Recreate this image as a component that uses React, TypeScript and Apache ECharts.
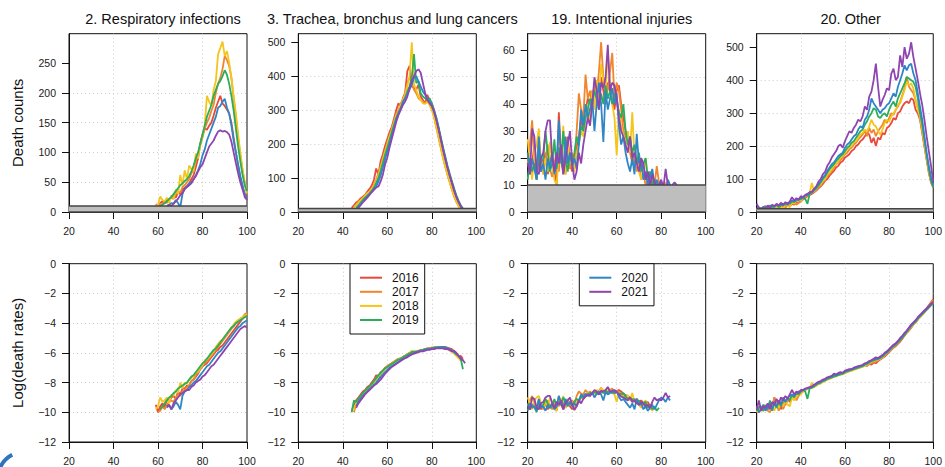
import React, { useEffect, useRef } from 'react';
import * as echarts from 'echarts';

// ---------- data ----------
const YEARS = ['2016', '2017', '2018', '2019', '2020', '2021'];
const COLORS = ['#E8493B', '#F0862E', '#F4C51B', '#2BAE5C', '#2F86C5', '#8E45B0'];
const PANEL_TITLES = [
  '2. Respiratory infections',
  '3. Trachea, bronchus and lung cancers',
  '19. Intentional injuries',
  '20. Other',
];
const ROW_NAMES = ['Death counts', 'Log(death rates)'];
const AGE_MIN = 20;
const AGE_MAX = 100;
const AGE_STEP = 20;
const COUNT_TICKS = [
  [0, 50, 100, 150, 200, 250],
  [0, 100, 200, 300, 400, 500],
  [0, 10, 20, 30, 40, 50, 60],
  [0, 100, 200, 300, 400, 500],
];
const COUNT_MAX = [299.25, 525, 66.15, 541];
const RATE_MIN = -12;
const RATE_MAX = 0;
const RATE_STEP = 2;
const THRESHOLD = 10;

// 2. Respiratory infections: first age of each year's series
const RESP_START = [59, 60, 59, 61, 64, 64];
const RESP_C16 = [13, 10, 15, 18, 14, 22, 20, 25, 28, 24, 33, 30, 38, 40, 44, 48, 55, 62, 75, 90, 115, 130, 140, 138, 145, 150, 162, 175, 185, 195, 182, 178, 172, 165, 150, 125, 100, 78, 58, 42, 30, 22];
const RESP_C17 = [10, 14, 12, 18, 15, 20, 24, 22, 30, 35, 32, 42, 45, 50, 55, 65, 70, 85, 98, 112, 125, 140, 150, 158, 170, 180, 200, 215, 225, 240, 262, 255, 245, 225, 190, 160, 125, 95, 70, 48, 30];
const RESP_C18 = [10, 12, 26, 20, 18, 24, 15, 28, 22, 38, 30, 62, 45, 70, 55, 78, 72, 68, 98, 90, 112, 128, 145, 195, 185, 178, 205, 220, 265, 275, 286, 262, 270, 250, 225, 195, 165, 130, 100, 72, 50, 32];
const RESP_C19 = [10, 12, 15, 18, 22, 25, 30, 35, 40, 45, 48, 52, 55, 60, 68, 78, 90, 100, 115, 130, 145, 160, 170, 180, 195, 205, 215, 220, 228, 238, 230, 215, 195, 170, 140, 110, 85, 62, 45, 35];
const RESP_C20 = [10, 12, 15, 14, 20, 15, 8, 30, 40, 42, 48, 50, 55, 62, 70, 80, 95, 105, 120, 130, 140, 150, 160, 175, 178, 185, 190, 175, 165, 145, 120, 100, 80, 60, 45, 30, 25];
const RESP_C21 = [10, 12, 10, 14, 18, 22, 28, 32, 38, 42, 45, 48, 55, 60, 68, 75, 80, 90, 100, 110, 115, 120, 128, 135, 137, 135, 136, 134, 130, 118, 100, 82, 65, 50, 38, 25, 20];
const RESP_R16 = [-9.5, -10.0, -9.6, -9.4, -9.7, -9.1, -9.3, -9.0, -8.9, -9.1, -8.6, -8.8, -8.4, -8.4, -8.2, -8.2, -7.9, -7.8, -7.6, -7.4, -7.1, -6.9, -6.8, -6.7, -6.5, -6.3, -6.1, -5.9, -5.8, -5.6, -5.5, -5.3, -5.1, -4.9, -4.7, -4.5, -4.3, -4.1, -3.9, -3.7, -3.5, -3.4];
const RESP_R17 = [-10.0, -9.9, -9.6, -9.8, -9.5, -9.3, -9.2, -9.3, -9.0, -8.8, -8.9, -8.6, -8.5, -8.3, -8.2, -7.9, -7.8, -7.5, -7.3, -7.1, -6.9, -6.7, -6.6, -6.4, -6.2, -6.0, -5.8, -5.6, -5.4, -5.2, -5.0, -4.8, -4.6, -4.4, -4.2, -4.0, -3.8, -3.7, -3.6, -3.4, -3.3];
const RESP_R18 = [-9.8, -9.6, -9.0, -9.3, -9.2, -9.0, -9.4, -8.8, -8.9, -8.5, -8.7, -8.0, -8.4, -8.0, -8.1, -7.8, -7.7, -7.6, -7.3, -7.3, -7.0, -6.8, -6.5, -6.4, -6.3, -6.1, -5.9, -5.6, -5.4, -5.2, -5.1, -4.9, -4.7, -4.5, -4.3, -4.1, -3.9, -3.8, -3.7, -3.6, -3.5, -3.4];
const RESP_R19 = [-9.8, -9.6, -9.4, -9.2, -9.0, -8.9, -8.7, -8.6, -8.4, -8.3, -8.2, -8.1, -8.0, -7.8, -7.6, -7.5, -7.3, -7.1, -6.9, -6.7, -6.6, -6.4, -6.2, -6.0, -5.8, -5.7, -5.5, -5.3, -5.1, -4.9, -4.7, -4.5, -4.3, -4.2, -4.0, -3.9, -3.8, -3.7, -3.6, -3.5];
const RESP_R20 = [-9.7, -9.5, -9.8, -9.6, -9.3, -9.5, -9.8, -8.9, -8.6, -8.5, -8.3, -8.2, -8.0, -7.9, -7.7, -7.5, -7.3, -7.1, -6.9, -6.8, -6.6, -6.4, -6.2, -6.0, -5.9, -5.7, -5.5, -5.3, -5.1, -4.9, -4.7, -4.5, -4.3, -4.2, -4.0, -3.9, -3.8];
const RESP_R21 = [-9.6, -9.5, -9.8, -9.4, -9.2, -9.0, -8.8, -8.7, -8.6, -8.5, -8.5, -8.3, -8.2, -8.0, -7.9, -7.8, -7.6, -7.5, -7.3, -7.1, -6.9, -6.8, -6.6, -6.4, -6.2, -6.0, -5.8, -5.6, -5.4, -5.2, -5.0, -4.8, -4.6, -4.4, -4.3, -4.2, -4.3];

// 3. Trachea, bronchus and lung cancers
const LUNG_C_START = [44, 45, 45, 46, 46, 46];
const LUNG_R_START = [44, 45, 45, 44, 46, 46];
const LUNG_C16 = [12, 20, 28, 32, 40, 45, 50, 60, 68, 78, 95, 128, 110, 150, 170, 195, 215, 235, 250, 275, 300, 320, 310, 335, 350, 415, 430, 370, 365, 360, 375, 340, 330, 320, 345, 325, 320, 300, 272, 245, 215, 185, 155, 130, 105, 85, 62, 45, 28, 15, 8];
const LUNG_C17 = [15, 22, 30, 35, 42, 48, 55, 62, 70, 80, 95, 115, 135, 160, 180, 205, 225, 245, 268, 290, 300, 320, 330, 350, 380, 395, 380, 360, 350, 335, 330, 325, 320, 330, 322, 305, 280, 250, 220, 190, 160, 135, 110, 88, 66, 46, 30, 18, 8];
const LUNG_C18 = [12, 20, 28, 35, 40, 48, 55, 60, 68, 78, 90, 108, 130, 155, 178, 200, 222, 240, 262, 285, 295, 315, 330, 345, 370, 400, 500, 375, 360, 340, 330, 320, 318, 325, 315, 300, 278, 250, 222, 192, 162, 136, 112, 90, 68, 48, 32, 18, 8];
const LUNG_C19 = [12, 20, 28, 35, 42, 48, 55, 62, 72, 85, 100, 120, 145, 168, 190, 212, 235, 255, 278, 292, 305, 320, 335, 355, 370, 395, 465, 380, 385, 350, 340, 335, 330, 335, 320, 300, 280, 252, 222, 192, 165, 138, 114, 92, 70, 50, 34, 20, 10];
const LUNG_C20 = [8, 15, 22, 30, 38, 45, 52, 60, 68, 75, 90, 108, 130, 155, 178, 200, 225, 250, 272, 290, 305, 325, 335, 345, 360, 375, 395, 400, 385, 370, 355, 345, 335, 325, 315, 298, 275, 248, 218, 188, 160, 133, 110, 88, 66, 46, 30, 17, 8];
const LUNG_C21 = [5, 12, 20, 28, 35, 42, 50, 58, 65, 72, 75, 90, 110, 140, 160, 190, 215, 240, 265, 285, 300, 315, 325, 340, 365, 385, 400, 415, 420, 410, 380, 350, 330, 320, 312, 295, 272, 245, 215, 185, 158, 132, 108, 86, 64, 45, 30, 18, 8, 3];
const LUNG_R16 = [-9.9, -9.5, -9.2, -9.0, -8.8, -8.6, -8.5, -8.3, -8.2, -8.0, -7.8, -7.5, -7.6, -7.3, -7.2, -7.0, -6.9, -6.8, -6.7, -6.6, -6.5, -6.4, -6.4, -6.3, -6.2, -6.1, -6.0, -6.0, -5.95, -5.9, -5.9, -5.85, -5.8, -5.75, -5.7, -5.7, -5.65, -5.65, -5.6, -5.6, -5.65, -5.6, -5.6, -5.65, -5.7, -5.75, -5.9, -6.0, -6.3, -6.2, -6.4];
const LUNG_R17 = [-10.0, -9.5, -9.2, -9.0, -8.8, -8.6, -8.4, -8.3, -8.1, -7.9, -7.7, -7.5, -7.4, -7.2, -7.05, -6.9, -6.8, -6.7, -6.6, -6.5, -6.4, -6.35, -6.3, -6.2, -6.1, -6.05, -6.0, -5.95, -5.9, -5.85, -5.8, -5.8, -5.75, -5.7, -5.7, -5.65, -5.65, -5.6, -5.6, -5.6, -5.65, -5.65, -5.7, -5.8, -5.9, -6.0, -6.1, -6.3, -6.5];
const LUNG_R18 = [-9.8, -9.4, -9.2, -9.0, -8.85, -8.7, -8.5, -8.35, -8.2, -8.0, -7.8, -7.6, -7.45, -7.3, -7.1, -6.95, -6.85, -6.75, -6.6, -6.55, -6.45, -6.35, -6.3, -6.2, -6.15, -6.0, -5.85, -6.05, -6.0, -5.9, -5.85, -5.8, -5.8, -5.75, -5.7, -5.7, -5.65, -5.65, -5.6, -5.65, -5.7, -5.7, -5.75, -5.85, -5.95, -6.05, -6.2, -6.35, -6.5];
const LUNG_R19 = [-10.0, -9.2, -9.3, -9.1, -8.9, -8.7, -8.55, -8.4, -8.25, -8.1, -7.9, -7.7, -7.5, -7.35, -7.2, -7.05, -6.95, -6.85, -6.75, -6.65, -6.55, -6.45, -6.4, -6.3, -6.2, -6.15, -6.05, -5.95, -5.9, -5.95, -5.9, -5.85, -5.8, -5.75, -5.75, -5.7, -5.7, -5.65, -5.65, -5.6, -5.6, -5.6, -5.65, -5.7, -5.75, -5.85, -5.95, -6.1, -6.2, -6.4, -7.1];
const LUNG_R20 = [-9.6, -9.3, -9.1, -8.9, -8.75, -8.6, -8.45, -8.3, -8.15, -8.0, -7.8, -7.6, -7.45, -7.3, -7.15, -7.0, -6.9, -6.8, -6.7, -6.6, -6.5, -6.4, -6.35, -6.25, -6.15, -6.1, -6.0, -5.95, -5.9, -5.85, -5.85, -5.8, -5.75, -5.75, -5.7, -5.7, -5.65, -5.65, -5.65, -5.6, -5.65, -5.7, -5.75, -5.85, -5.95, -6.05, -6.2, -6.35, -6.5];
const LUNG_R21 = [-9.7, -9.4, -9.2, -9.0, -8.8, -8.65, -8.5, -8.35, -8.2, -8.1, -7.95, -7.8, -7.6, -7.4, -7.25, -7.1, -6.95, -6.85, -6.75, -6.65, -6.55, -6.45, -6.35, -6.3, -6.2, -6.1, -6.05, -6.0, -5.95, -5.9, -5.9, -5.85, -5.8, -5.8, -5.75, -5.75, -5.7, -5.7, -5.7, -5.7, -5.75, -5.75, -5.8, -5.9, -5.85, -6.0, -6.2, -6.4, -6.5, -6.7];

// 19. Intentional injuries (all series start at age 20)
const INJ_START = [20, 20, 20, 20, 20, 20];
const INJ_C16 = [22, 15, 18, 25, 12, 20, 15, 18, 22, 14, 18, 22, 15, 10, 37, 20, 14, 22, 28, 18, 15, 20, 24, 28, 35, 30, 38, 42, 40, 45, 44, 48, 42, 50, 45, 40, 48, 45, 42, 38, 45, 47, 40, 35, 30, 28, 25, 22, 18, 20, 15, 18, 14, 12, 15, 10, 12, 8, 11, 9, 10];
const INJ_C17 = [18, 25, 34, 20, 15, 28, 18, 14, 20, 25, 16, 13, 18, 22, 15, 25, 18, 14, 20, 16, 22, 18, 30, 44, 38, 35, 51, 42, 45, 38, 48, 44, 52, 63, 50, 48, 45, 52, 59, 42, 48, 45, 38, 30, 28, 25, 22, 18, 20, 15, 18, 12, 14, 10, 12, 9, 12, 10, 17, 11, 9, 10, 11];
const INJ_C18 = [27, 18, 12, 22, 25, 31, 18, 14, 20, 15, 26, 18, 12, 10, 22, 18, 32, 14, 25, 18, 20, 15, 22, 25, 30, 28, 35, 40, 32, 45, 38, 49, 42, 55, 49, 44, 59, 48, 40, 35, 21, 38, 32, 28, 25, 30, 22, 37, 20, 18, 15, 12, 16, 20, 12, 10, 8, 10];
const INJ_C19 = [12, 20, 15, 18, 12, 22, 18, 20, 30, 22, 15, 18, 27, 16, 24, 18, 30, 20, 15, 22, 18, 22, 28, 25, 32, 30, 35, 38, 42, 40, 45, 42, 38, 44, 40, 47, 42, 45, 40, 44, 42, 37, 35, 40, 30, 25, 28, 22, 25, 18, 22, 15, 18, 20, 12, 15, 10, 12, 9, 10];
const INJ_C20 = [22, 14, 20, 16, 12, 28, 15, 18, 12, 20, 16, 22, 14, 18, 34, 20, 15, 28, 18, 22, 17, 20, 16, 25, 38, 32, 40, 35, 38, 42, 30, 40, 48, 40, 26, 45, 38, 42, 46, 40, 44, 32, 25, 28, 22, 18, 15, 20, 14, 29, 18, 20, 12, 15, 10, 13, 16, 10, 12, 9, 11, 10, 8, 12, 10];
const INJ_C21 = [18, 14, 31, 28, 15, 14, 20, 22, 30, 34, 34, 20, 15, 22, 18, 25, 14, 20, 25, 30, 18, 12, 15, 22, 18, 25, 30, 35, 32, 40, 50, 45, 38, 48, 46, 50, 62, 45, 48, 47, 42, 35, 30, 28, 25, 22, 28, 20, 22, 18, 15, 20, 18, 12, 15, 10, 14, 11, 9, 10, 12, 9, 16, 10, 9, 10, 11, 10];
const INJ_R16 = [-9.4, -9.8, -9.6, -9.3, -9.9, -9.5, -9.8, -9.6, -9.4, -9.8, -9.6, -9.4, -9.7, -9.9, -8.9, -9.5, -9.8, -9.4, -9.2, -9.6, -9.8, -9.6, -9.4, -9.3, -9.0, -9.1, -8.9, -8.8, -8.85, -8.7, -8.75, -8.6, -8.75, -8.55, -8.65, -8.75, -8.6, -8.6, -8.65, -8.75, -8.55, -8.5, -8.6, -8.75, -8.85, -8.9, -9.0, -9.1, -9.25, -9.1, -9.3, -9.2, -9.4, -9.45, -9.3, -9.6, -9.4];
const INJ_R17 = [-9.6, -9.2, -8.9, -9.4, -9.7, -9.1, -9.5, -9.8, -9.4, -9.2, -9.6, -9.8, -9.5, -9.3, -9.6, -9.1, -9.4, -9.7, -9.3, -9.5, -9.2, -9.4, -8.9, -8.6, -8.75, -8.8, -8.5, -8.7, -8.6, -8.8, -8.6, -8.65, -8.55, -8.35, -8.6, -8.6, -8.65, -8.5, -8.4, -8.7, -8.55, -8.6, -8.75, -8.95, -9.0, -9.05, -9.15, -9.3, -9.2, -9.4, -9.25, -9.6, -9.45, -9.7, -9.5, -9.8, -9.5];
const INJ_R18 = [-9.0, -9.4, -9.8, -9.2, -9.0, -8.9, -9.4, -9.7, -9.3, -9.6, -9.0, -9.3, -9.8, -9.9, -9.2, -9.4, -8.9, -9.7, -9.1, -9.4, -9.3, -9.6, -9.3, -9.2, -9.0, -9.05, -8.85, -8.7, -8.95, -8.6, -8.75, -8.5, -8.65, -8.4, -8.5, -8.6, -8.35, -8.55, -8.7, -8.8, -9.3, -8.7, -8.85, -8.95, -9.05, -8.85, -9.15, -8.7, -9.3, -9.35, -9.5, -9.7, -9.4, -9.2, -9.6, -9.7, -9.9, -9.6];
const INJ_R19 = [-9.9, -9.4, -9.7, -9.6, -10.0, -9.4, -9.6, -9.5, -9.1, -9.4, -9.7, -9.6, -9.1, -9.6, -9.3, -9.5, -9.0, -9.3, -9.6, -9.3, -9.5, -9.3, -9.1, -9.2, -8.95, -9.0, -8.85, -8.8, -8.7, -8.75, -8.65, -8.7, -8.8, -8.65, -8.7, -8.55, -8.65, -8.6, -8.7, -8.6, -8.65, -8.75, -8.8, -8.7, -8.95, -9.1, -9.0, -9.2, -9.1, -9.4, -9.2, -9.5, -9.35, -9.3, -9.7, -9.5, -9.8, -9.6, -9.9, -9.7];
const INJ_R20 = [-9.4, -9.8, -9.5, -9.7, -9.9, -9.1, -9.7, -9.6, -9.9, -9.5, -9.7, -9.4, -9.8, -9.6, -8.9, -9.4, -9.7, -9.1, -9.5, -9.3, -9.6, -9.4, -9.6, -9.2, -8.8, -8.95, -8.75, -8.9, -8.8, -8.7, -9.0, -8.75, -8.6, -8.8, -9.2, -8.65, -8.8, -8.7, -8.6, -8.7, -8.6, -8.95, -9.2, -9.1, -9.3, -9.5, -9.7, -9.4, -9.8, -9.1, -9.5, -9.4, -9.8, -9.6, -9.9, -9.7, -9.5, -9.8, -9.5, -9.2, -9.0, -9.1, -9.3, -9.0, -9.2];
const INJ_R21 = [-9.6, -9.8, -9.0, -9.1, -9.7, -9.8, -9.4, -9.3, -9.0, -8.9, -8.9, -9.4, -9.7, -9.3, -9.5, -9.2, -9.8, -9.4, -9.2, -9.0, -9.5, -9.85, -9.6, -9.2, -9.4, -9.1, -8.95, -8.8, -8.9, -8.7, -8.5, -8.6, -8.8, -8.55, -8.6, -8.5, -8.3, -8.6, -8.55, -8.5, -8.65, -8.8, -8.95, -9.0, -9.1, -9.2, -9.0, -9.3, -9.2, -9.4, -9.5, -9.3, -9.4, -9.6, -9.5, -9.7, -9.3, -9.0, -9.2, -9.1, -9.2, -9.0, -8.7, -9.0, -8.9];

// 20. Other (all series cover ages 20..100)
const OTH_START = [20, 20, 20, 20, 20, 20];
const OTH_C16 = [10, 8, 12, 6, 10, 8, 12, 15, 10, 14, 18, 12, 20, 15, 22, 18, 25, 22, 30, 28, 35, 38, 42, 48, 52, 55, 60, 65, 72, 78, 85, 95, 100, 110, 118, 125, 135, 140, 150, 155, 165, 170, 175, 185, 190, 200, 205, 215, 220, 230, 240, 235, 210, 225, 200, 225, 220, 240, 235, 255, 260, 270, 285, 280, 300, 305, 320, 330, 335, 330, 345, 340, 310, 300, 280, 240, 200, 160, 120, 90, 75];
const OTH_C17 = [6, 10, 8, 12, 10, 14, 12, 15, 10, 18, 12, 20, 15, 12, 22, 18, 25, 30, 22, 28, 32, 40, 45, 50, 55, 58, 62, 68, 75, 80, 90, 98, 108, 115, 125, 135, 145, 150, 158, 165, 175, 180, 190, 195, 205, 210, 220, 228, 235, 245, 230, 255, 240, 250, 230, 245, 255, 265, 280, 270, 285, 300, 295, 310, 320, 335, 355, 375, 410, 380, 370, 360, 340, 315, 285, 245, 200, 160, 120, 90, 75];
const OTH_C18 = [5, 8, 10, 6, 12, 8, 15, 10, 18, 12, 20, 15, 10, 22, 18, 15, 30, 25, 35, 40, 35, 42, 48, 55, 58, 88, 62, 70, 78, 85, 95, 100, 115, 120, 130, 140, 145, 155, 165, 170, 180, 190, 195, 200, 210, 215, 225, 235, 240, 250, 245, 260, 280, 265, 260, 245, 235, 250, 270, 280, 275, 290, 300, 310, 325, 330, 350, 370, 395, 385, 390, 375, 340, 310, 290, 250, 210, 165, 125, 95, 80];
const OTH_C19 = [8, 12, 10, 15, 18, 12, 20, 15, 18, 22, 15, 20, 25, 22, 28, 25, 32, 30, 35, 40, 38, 45, 40, 25, 55, 60, 65, 72, 80, 90, 100, 108, 120, 130, 138, 145, 155, 162, 170, 175, 185, 195, 200, 210, 215, 225, 235, 245, 250, 265, 275, 290, 300, 315, 310, 290, 285, 295, 300, 290, 310, 325, 335, 320, 345, 360, 375, 390, 410, 405, 400, 395, 380, 345, 300, 265, 220, 175, 130, 95, 75];
const OTH_C20 = [10, 15, 8, 12, 10, 18, 12, 20, 15, 22, 18, 25, 20, 28, 22, 30, 35, 32, 40, 36, 45, 42, 50, 52, 58, 60, 68, 75, 85, 92, 105, 112, 125, 135, 145, 150, 160, 170, 175, 180, 195, 205, 210, 220, 230, 235, 250, 260, 255, 280, 290, 310, 345, 330, 320, 310, 300, 310, 315, 325, 330, 345, 360, 350, 380, 400, 420, 445, 430, 445, 450, 420, 400, 360, 320, 280, 230, 180, 140, 105, 80];
const OTH_C21 = [25, 12, 8, 15, 10, 20, 12, 22, 18, 25, 20, 28, 22, 30, 25, 32, 45, 35, 42, 38, 48, 45, 52, 55, 60, 62, 70, 78, 92, 100, 115, 122, 140, 150, 165, 175, 185, 200, 205, 195, 215, 230, 245, 240, 255, 265, 280, 275, 290, 320, 310, 350, 365, 400, 450, 380, 320, 340, 355, 375, 370, 420, 435, 400, 410, 475, 440, 500, 465, 480, 515, 470, 435, 400, 360, 325, 280, 230, 185, 140, 92];
const OTH_R16 = [-9.9, -10.0, -9.7, -9.9, -9.6, -9.8, -9.5, -9.9, -9.0, -9.7, -9.4, -9.8, -9.3, -9.5, -9.1, -9.3, -8.9, -9.0, -8.8, -8.75, -8.6, -8.55, -8.5, -8.4, -8.35, -8.3, -8.25, -8.15, -8.05, -8.0, -7.9, -7.85, -7.75, -7.7, -7.6, -7.55, -7.5, -7.45, -7.4, -7.35, -7.3, -7.25, -7.2, -7.15, -7.1, -7.05, -7.0, -6.95, -6.9, -6.85, -6.8, -6.75, -6.8, -6.65, -6.7, -6.55, -6.45, -6.35, -6.25, -6.1, -5.95, -5.8, -5.65, -5.55, -5.4, -5.25, -5.05, -4.85, -4.65, -4.5, -4.3, -4.1, -3.95, -3.75, -3.6, -3.4, -3.2, -3.0, -2.8, -2.6, -2.4];
const OTH_R17 = [-10.0, -9.6, -9.8, -9.5, -9.7, -9.9, -10.0, -9.6, -9.0, -9.5, -9.9, -9.3, -9.8, -9.4, -9.2, -9.1, -9.0, -8.8, -9.2, -8.9, -8.7, -8.6, -8.5, -8.4, -8.4, -8.35, -8.3, -8.2, -8.1, -8.05, -7.95, -7.85, -7.8, -7.7, -7.65, -7.6, -7.5, -7.5, -7.45, -7.4, -7.35, -7.3, -7.2, -7.2, -7.1, -7.05, -7.0, -6.95, -6.9, -6.85, -6.9, -6.75, -6.7, -6.6, -6.6, -6.5, -6.4, -6.3, -6.15, -6.05, -5.9, -5.75, -5.6, -5.5, -5.35, -5.2, -5.0, -4.8, -4.6, -4.45, -4.25, -4.1, -3.95, -3.75, -3.6, -3.45, -3.25, -3.05, -2.85, -2.65, -2.45];
const OTH_R18 = [-10.0, -9.8, -9.6, -9.9, -9.7, -9.5, -9.8, -9.6, -9.9, -9.4, -9.7, -9.3, -9.6, -9.2, -9.5, -9.6, -9.0, -9.2, -8.9, -8.8, -8.8, -8.6, -8.5, -8.45, -8.4, -8.0, -8.3, -8.2, -8.1, -8.05, -7.95, -7.9, -7.8, -7.75, -7.7, -7.6, -7.6, -7.5, -7.45, -7.45, -7.35, -7.3, -7.25, -7.2, -7.15, -7.1, -7.05, -7.0, -6.95, -6.85, -6.8, -6.7, -6.6, -6.55, -6.5, -6.45, -6.4, -6.3, -6.15, -6.0, -5.9, -5.75, -5.6, -5.45, -5.3, -5.15, -5.0, -4.8, -4.6, -4.45, -4.25, -4.1, -3.95, -3.75, -3.6, -3.45, -3.3, -3.1, -2.95, -2.8, -2.6];
const OTH_R19 = [-9.9, -9.7, -9.6, -9.9, -9.5, -9.8, -9.2, -9.9, -9.4, -9.7, -9.2, -9.6, -9.1, -9.3, -9.0, -9.2, -8.8, -9.0, -8.7, -8.8, -8.6, -8.5, -8.6, -9.1, -8.4, -8.35, -8.25, -8.15, -8.05, -8.0, -7.9, -7.85, -7.75, -7.7, -7.65, -7.6, -7.55, -7.5, -7.45, -7.4, -7.3, -7.25, -7.2, -7.15, -7.1, -7.05, -7.0, -6.95, -6.9, -6.8, -6.75, -6.65, -6.55, -6.5, -6.45, -6.4, -6.35, -6.25, -6.1, -6.0, -5.85, -5.7, -5.55, -5.45, -5.3, -5.15, -5.0, -4.8, -4.6, -4.4, -4.2, -4.05, -3.9, -3.7, -3.55, -3.4, -3.25, -3.1, -2.95, -2.8, -2.7];
const OTH_R20 = [-9.6, -10.0, -9.8, -9.5, -9.9, -9.6, -9.4, -9.8, -9.3, -9.6, -9.2, -9.5, -9.0, -9.3, -9.0, -8.9, -8.8, -8.9, -8.7, -8.6, -8.6, -8.5, -8.45, -8.4, -8.35, -8.3, -8.2, -8.1, -8.0, -7.95, -7.85, -7.8, -7.7, -7.65, -7.6, -7.5, -7.5, -7.4, -7.35, -7.35, -7.25, -7.2, -7.15, -7.1, -7.05, -7.0, -6.95, -6.9, -6.85, -6.75, -6.7, -6.6, -6.5, -6.45, -6.4, -6.4, -6.3, -6.2, -6.05, -5.95, -5.8, -5.65, -5.5, -5.4, -5.25, -5.05, -4.9, -4.7, -4.55, -4.35, -4.15, -4.0, -3.85, -3.65, -3.5, -3.35, -3.2, -3.05, -2.9, -2.75, -2.65];
const OTH_R21 = [-9.8, -9.2, -9.9, -9.6, -9.7, -9.4, -9.8, -9.3, -9.5, -9.1, -9.4, -9.0, -9.2, -8.9, -9.1, -8.8, -8.5, -8.8, -8.6, -8.7, -8.5, -8.5, -8.4, -8.35, -8.3, -8.25, -8.15, -8.05, -7.95, -7.9, -7.8, -7.75, -7.65, -7.6, -7.55, -7.4, -7.45, -7.35, -7.3, -7.35, -7.2, -7.15, -7.1, -7.1, -7.0, -6.95, -6.9, -6.85, -6.8, -6.7, -6.65, -6.55, -6.5, -6.4, -6.3, -6.35, -6.25, -6.15, -6.0, -5.9, -5.75, -5.6, -5.45, -5.35, -5.2, -5.0, -4.85, -4.65, -4.5, -4.3, -4.1, -3.95, -3.8, -3.6, -3.45, -3.3, -3.15, -3.0, -2.85, -2.7, -2.6];

const PANEL_COUNTS = [
  [RESP_C16, RESP_C17, RESP_C18, RESP_C19, RESP_C20, RESP_C21],
  [LUNG_C16, LUNG_C17, LUNG_C18, LUNG_C19, LUNG_C20, LUNG_C21],
  [INJ_C16, INJ_C17, INJ_C18, INJ_C19, INJ_C20, INJ_C21],
  [OTH_C16, OTH_C17, OTH_C18, OTH_C19, OTH_C20, OTH_C21],
];
const PANEL_RATES = [
  [RESP_R16, RESP_R17, RESP_R18, RESP_R19, RESP_R20, RESP_R21],
  [LUNG_R16, LUNG_R17, LUNG_R18, LUNG_R19, LUNG_R20, LUNG_R21],
  [INJ_R16, INJ_R17, INJ_R18, INJ_R19, INJ_R20, INJ_R21],
  [OTH_R16, OTH_R17, OTH_R18, OTH_R19, OTH_R20, OTH_R21],
];
const PANEL_COUNT_STARTS = [RESP_START, LUNG_C_START, INJ_START, OTH_START];
const PANEL_RATE_STARTS = [RESP_START, LUNG_R_START, INJ_START, OTH_START];

// ---------- layout / style ----------
const FONT = '"Liberation Sans", Arial, Helvetica, sans-serif';
const GRID_LEFTS = [69, 298.3, 527.7, 756.7];
const GRID_W = 178;
const ROW_TOPS = [33.7, 263.7];
const GRID_H = 178.3;
const INK = '#1a1a1a';

function toPoints(start: number, values: number[]) {
  return values.map((v, i) => [start + i, v]);
}

function minusSign(v: number) {
  return String(v).replace('-', '\u2212');
}

function buildOption() {
  const grid: any[] = [];
  const xAxis: any[] = [];
  const yAxis: any[] = [];
  const series: any[] = [];
  const title: any[] = [];

  for (let col = 0; col < 4; col++) {
    title.push({
      text: PANEL_TITLES[col],
      left: GRID_LEFTS[col] + GRID_W / 2,
      top: 6,
      textAlign: 'center',
      textStyle: { fontFamily: FONT, fontSize: 14.5, fontWeight: 'normal', color: '#111' },
    });
    for (let row = 0; row < 2; row++) {
      const gi = grid.length;
      grid.push({
        left: GRID_LEFTS[col],
        top: ROW_TOPS[row],
        width: GRID_W,
        height: GRID_H,
        show: true,
        borderColor: '#111',
        borderWidth: 1,
        backgroundColor: 'transparent',
      });
      xAxis.push({
        type: 'value',
        gridIndex: gi,
        min: AGE_MIN,
        max: AGE_MAX,
        interval: AGE_STEP,
        axisLine: { show: true, onZero: false, lineStyle: { color: '#111', width: 1 } },
        axisTick: { show: true, length: 7, lineStyle: { color: '#111' } },
        axisLabel: { margin: 13, fontFamily: FONT, fontSize: 10.5, color: INK },
        splitLine: {
          show: true,
          showMinLine: false,
          showMaxLine: false,
          lineStyle: { color: '#cccccc', type: [1, 3], width: 1 },
        },
      });
      const isCount = row === 0;
      yAxis.push({
        type: 'value',
        gridIndex: gi,
        min: isCount ? 0 : RATE_MIN,
        max: isCount ? COUNT_MAX[col] : RATE_MAX,
        interval: isCount ? undefined : RATE_STEP,
        name: col === 0 ? ROW_NAMES[row] : '',
        nameLocation: 'middle',
        nameRotate: 90,
        nameGap: 44,
        nameTextStyle: { fontFamily: FONT, fontSize: 15, color: '#111' },
        axisLine: { show: true, onZero: false, lineStyle: { color: '#111', width: 1 } },
        axisTick: isCount
          ? { show: true, length: 7, lineStyle: { color: '#111' }, customValues: COUNT_TICKS[col] }
          : { show: true, length: 7, lineStyle: { color: '#111' } },
        axisLabel: isCount
          ? { margin: 13, fontFamily: FONT, fontSize: 10.5, color: INK, customValues: COUNT_TICKS[col] }
          : { margin: 13, fontFamily: FONT, fontSize: 10.5, color: INK, formatter: minusSign },
        splitLine: {
          show: true,
          showMinLine: false,
          showMaxLine: false,
          lineStyle: { color: '#cccccc', type: [1, 3], width: 1 },
        },
      });

      const values = isCount ? PANEL_COUNTS[col] : PANEL_RATES[col];
      const starts = isCount ? PANEL_COUNT_STARTS[col] : PANEL_RATE_STARTS[col];
      YEARS.forEach((yr, k) => {
        series.push({
          type: 'line',
          name: yr,
          xAxisIndex: gi,
          yAxisIndex: gi,
          data: toPoints(starts[k], values[k]),
          showSymbol: false,
          symbol: 'none',
          lineStyle: { color: COLORS[k], width: 1.8 },
          itemStyle: { color: COLORS[k] },
          z: 2,
          silent: true,
        });
      });

      if (isCount) {
        series.push({
          type: 'line',
          name: 'threshold',
          xAxisIndex: gi,
          yAxisIndex: gi,
          data: [[AGE_MIN, THRESHOLD], [AGE_MAX, THRESHOLD]],
          showSymbol: false,
          symbol: 'none',
          lineStyle: { color: '#444', width: 1.5 },
          areaStyle: { color: '#BEBEBE', opacity: 1, origin: 'start' },
          z: 3,
          silent: true,
          markLine: {
            silent: true,
            symbol: 'none',
            label: { show: false },
            lineStyle: { color: '#444', width: 1.5, type: 'solid' },
            data: [{ yAxis: 0 }],
          },
        });
      }
    }
  }

  const legendCommon = {
    orient: 'vertical',
    top: ROW_TOPS[1],
    backgroundColor: '#fff',
    borderColor: '#111',
    borderWidth: 1,
    borderRadius: 0,
    padding: [8, 6, 8, 10],
    itemWidth: 22,
    itemHeight: 2,
    itemGap: 2.1,
    icon: 'rect',
    selectedMode: false,
    textStyle: { fontFamily: FONT, fontSize: 12, color: '#111', padding: [0, 0, 0, 5] },
    z: 10,
  };

  return {
    animation: false,
    backgroundColor: '#fff',
    title,
    grid,
    xAxis,
    yAxis,
    series,
    legend: [
      { ...legendCommon, left: 350, data: YEARS.slice(0, 4) },
      { ...legendCommon, left: 579.3, data: YEARS.slice(4) },
    ],
    graphic: [
      {
        type: 'arc',
        shape: { cx: 24, cy: 478, r: 26, startAngle: Math.PI * 0.95, endAngle: Math.PI * 1.35 },
        style: { fill: 'none', stroke: '#2f74c0', lineWidth: 4 },
        silent: true,
      },
    ],
  };
}

export default function App() {
  const ref = useRef<HTMLDivElement>(null);
  useEffect(() => {
    if (!ref.current) return;
    const chart = echarts.init(ref.current, null, { renderer: 'svg' });
    chart.setOption(buildOption() as any);
    return () => chart.dispose();
  }, []);
  return (
    <div
      ref={ref}
      style={{ position: 'absolute', left: 0, top: 0, width: 945, height: 467 }}
    />
  );
}
